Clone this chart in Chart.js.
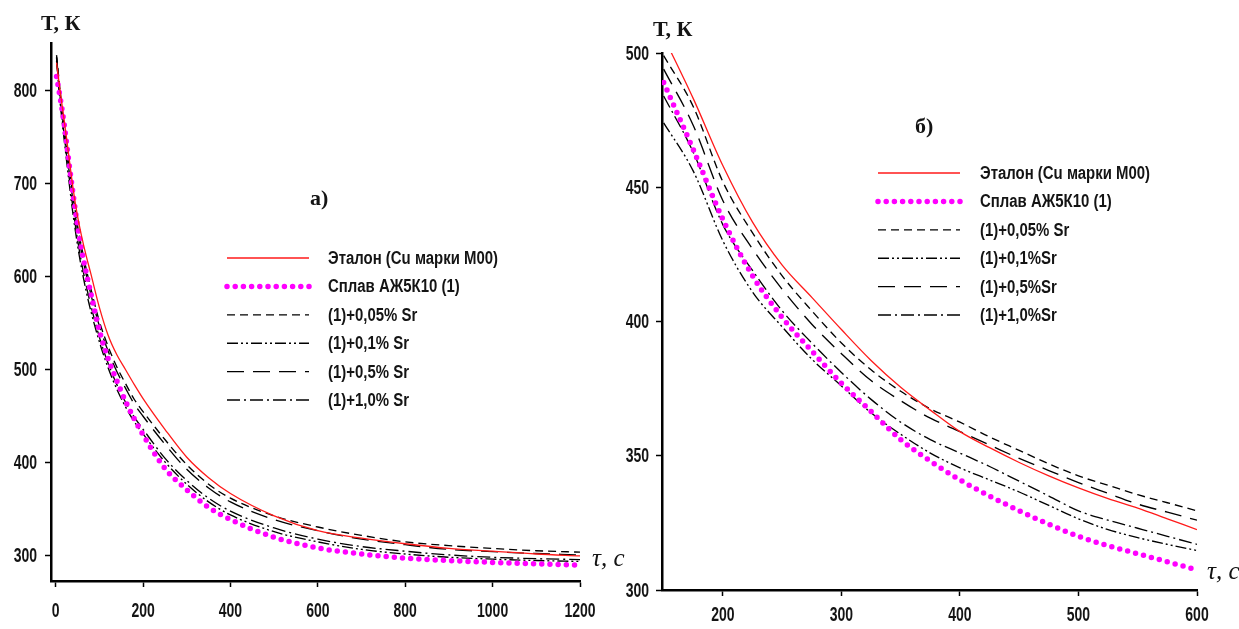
<!DOCTYPE html>
<html>
<head>
<meta charset="utf-8">
<script src="https://cdn.jsdelivr.net/npm/chart.js@4.4.1/dist/chart.umd.min.js"></script>
<style>
  html, body { margin: 0; padding: 0; background: #fff; }
  #wrap { position: relative; width: 1239px; height: 629px; overflow: hidden; }
  canvas { position: absolute; top: 0; }
  #chartA { left: 0; }
  #chartB { left: 620px; }
</style>
</head>
<body>
<div id="wrap">
  <canvas id="chartA" width="632" height="629"></canvas>
  <canvas id="chartB" width="619" height="629"></canvas>
</div>
<script>
// cooling curves, full run (a) and zoomed section 150..600 s (b)
const labelsA = ['Эталон (Cu марки М00)', 'Сплав АЖ5К10 (1)', '(1)+0,05% Sr', '(1)+0,1% Sr', '(1)+0,5% Sr', '(1)+1,0% Sr'];
const labelsB = ['Эталон (Cu марки М00)', 'Сплав АЖ5К10 (1)', '(1)+0,05% Sr', '(1)+0,1%Sr', '(1)+0,5%Sr', '(1)+1,0%Sr'];

const timeA = [2, 10, 20, 30, 40, 50, 60, 70, 80, 100, 120, 140, 160, 180, 200, 250, 300, 350, 400, 500, 600, 700, 800, 900, 1000, 1100, 1200];
const refA    = [830, 800, 766, 730, 694, 665, 642, 622, 604, 567, 537, 516, 500, 484, 469, 436, 406, 384, 367, 343, 327, 319, 313, 308, 305, 302, 300];
const alloyA  = [815, 793, 762, 724, 688, 655, 627, 604, 583, 542, 512, 488, 466, 447, 430, 394, 371, 352, 339, 320, 308.5, 302, 297.5, 295, 293, 291.5, 290];
const sr005A  = [838, 800, 760, 722, 686, 655, 630, 608, 588, 552, 525, 503, 485, 468, 455, 425, 398, 377, 362, 343, 331, 322, 315, 311, 308, 305.5, 304];
const sr01A   = [832, 788, 745, 704, 666, 634, 607, 584, 564, 530, 502, 479, 460, 444, 431, 401, 377, 358, 344, 326, 315, 307, 302, 298.5, 296.5, 295, 294];
const sr05A   = [836, 795, 755, 716, 680, 650, 624, 602, 582, 547, 520, 498, 480, 463, 450, 420, 393, 373, 358, 339, 327, 318, 312, 307, 304.5, 302.5, 301];
const sr10A   = [835, 792, 750, 710, 672, 640, 613, 590, 570, 535, 507, 484, 465, 449, 436, 405, 381, 362, 348, 330, 318, 310, 305, 301, 298.5, 297, 296];

const timeB = [150, 175, 200, 225, 250, 275, 300, 325, 350, 375, 400, 425, 450, 475, 500, 525, 550, 575, 600];
const refB    = [506, 483, 458, 437, 421, 409, 397, 385.5, 375.5, 367, 359, 353, 347.5, 342.5, 338, 334, 330.5, 326.5, 322.5];
const alloyB  = [489, 464, 438, 417, 401.5, 389, 377, 366.5, 356, 348, 341, 335, 329.5, 324.5, 320, 316.5, 313.5, 310.5, 307.5];
const sr005B  = [499, 480, 452, 433, 417, 404, 392, 382, 374, 367.5, 362.5, 357, 352, 347, 342.5, 339, 335.5, 332.5, 329.5];
const sr01B   = [474, 456, 430, 411, 398, 386, 376, 366, 358, 351, 345.5, 341, 336.5, 331.5, 326.5, 322.5, 319.5, 317, 314.7];
const sr05B   = [494, 473, 445, 427, 412, 399, 388, 378, 370.5, 364, 359, 354, 349, 344.5, 340, 336, 332, 329, 326];
const sr10B   = [484, 463, 436, 419, 404, 392, 381, 371, 362.5, 356, 351, 346, 340.5, 335, 329.5, 326, 323, 320, 317];

const xTicksA = [0, 200, 400, 600, 800, 1000, 1200];
const yTicksA = [300, 400, 500, 600, 700, 800];
const xTicksB = [200, 300, 400, 500, 600];
const yTicksB = [300, 350, 400, 450, 500];

// line looks, in legend order
const looks = [
  { color: '#ff1a1a', width: 1.3, dash: [] },
  { color: '#ff00ff', width: 5.5, dash: [0, 8.2], cap: 'round' },
  { color: '#000', width: 1.35, dash: [8, 5] },
  { color: '#000', width: 1.35, dash: [11, 3, 2, 3, 2, 3] },
  { color: '#000', width: 1.35, dash: [17, 9] },
  { color: '#000', width: 1.35, dash: [13, 4, 2, 4] },
];

const sansFamily = '"Liberation Sans", Arial, sans-serif';
const tickFont = 'bold 20px ' + sansFamily;
const legendFont = 'bold 18px ' + sansFamily;
const serifBold = 'bold 22px "Liberation Serif", "Times New Roman", serif';
const serifItalic = 'italic 25px "Liberation Serif", "Times New Roman", serif';

function makeDatasets(labels, times, series) {
  return series.map((ys, i) => ({
    label: labels[i],
    data: times.map((t, k) => ({ x: t, y: ys[k] })),
    borderColor: looks[i].color,
    borderWidth: looks[i].width,
    borderDash: looks[i].dash,
    borderCapStyle: looks[i].cap || 'butt',
    pointRadius: 0,
    fill: false,
    cubicInterpolationMode: 'monotone',
  }));
}

// labels are painted by the plugin below in a condensed face, so the
// scale only keeps its border and outward tick marks
function axis(min, max, ticks, fitSize, horizontal) {
  return {
    type: 'linear',
    min: min,
    max: max,
    afterBuildTicks: (s) => { s.ticks = ticks.map((v) => ({ value: v })); },
    afterFit: (s) => { if (horizontal) s.height = fitSize; else s.width = fitSize; },
    ticks: { display: false },
    grid: { drawOnChartArea: false, drawTicks: true, tickLength: 6, tickColor: '#000', tickWidth: 1.5 },
    border: { color: '#000', width: 2.5 },
  };
}

function narrowText(ctx, text, x, y, sx, align) {
  ctx.save();
  ctx.translate(x, y);
  ctx.scale(sx, 1);
  ctx.textAlign = align;
  ctx.textBaseline = 'middle';
  ctx.fillText(text, 0, 0);
  ctx.restore();
}

// tick numbers, legend and captions drawn over the plot
const insideLegend = {
  id: 'insideLegend',
  afterDraw(chart, args, opts) {
    const ctx = chart.ctx;
    const area = chart.chartArea;
    ctx.save();
    ctx.fillStyle = '#141414';

    ctx.font = tickFont;
    chart.scales.x.ticks.forEach((t) => {
      narrowText(ctx, String(t.value), chart.scales.x.getPixelForValue(t.value), area.bottom + opts.xLabelDrop, 0.7, 'center');
    });
    chart.scales.y.ticks.forEach((t) => {
      narrowText(ctx, String(t.value), area.left - opts.yLabelGap, chart.scales.y.getPixelForValue(t.value) + 1, 0.7, 'right');
    });

    chart.data.datasets.forEach((ds, i) => {
      const y = opts.top + i * opts.rowGap;
      ctx.beginPath();
      ctx.strokeStyle = ds.borderColor;
      ctx.lineWidth = ds.borderWidth;
      ctx.lineCap = ds.borderCapStyle;
      ctx.setLineDash(ds.borderDash);
      ctx.moveTo(opts.left, y);
      ctx.lineTo(opts.left + opts.lineLength, y);
      ctx.stroke();
      ctx.setLineDash([]);
      ctx.font = legendFont;
      narrowText(ctx, ds.label, opts.textLeft, y + 1, 0.83, 'left');
    });

    opts.captions.forEach((c) => {
      ctx.font = c.font;
      ctx.textAlign = 'left';
      ctx.textBaseline = 'middle';
      ctx.fillText(c.text, c.x, c.y);
    });
    ctx.restore();
  },
};

function makeChart(id, datasets, scales, padding, legendOpts) {
  return new Chart(document.getElementById(id), {
    type: 'line',
    data: { datasets: datasets },
    options: {
      responsive: false,
      animation: false,
      devicePixelRatio: 1,
      layout: { padding: padding },
      scales: scales,
      plugins: { legend: { display: false }, tooltip: { enabled: false }, insideLegend: legendOpts },
    },
    plugins: [insideLegend],
  });
}

makeChart('chartA',
  makeDatasets(labelsA, timeA, [refA, alloyA, sr005A, sr01A, sr05A, sr10A]),
  { x: axis(-10.7, 1200, xTicksA, 48, true), y: axis(273, 851, yTicksA, 51, false) },
  { left: 0, top: 43, right: 52, bottom: 0 },
  {
    xLabelDrop: 30, yLabelGap: 14,
    left: 227, lineLength: 82, textLeft: 328, top: 258, rowGap: 28.4,
    captions: [
      { text: 'Т, К', x: 41, y: 24, font: serifBold },
      { text: 'а)', x: 310, y: 199, font: serifBold },
      { text: 'τ, c', x: 592, y: 559, font: serifItalic },
    ],
  });

makeChart('chartB',
  makeDatasets(labelsB, timeB, [refB, alloyB, sr005B, sr01B, sr05B, sr10B]),
  { x: axis(148.6, 600, xTicksB, 39, true), y: axis(300, 500, yTicksB, 42, false) },
  { left: 0, top: 53, right: 42, bottom: 0 },
  {
    xLabelDrop: 25, yLabelGap: 13,
    left: 258, lineLength: 82, textLeft: 360, top: 173, rowGap: 28.4,
    captions: [
      { text: 'Т, К', x: 33, y: 30, font: serifBold },
      { text: 'б)', x: 295, y: 127, font: serifBold },
      { text: 'τ, c', x: 587, y: 572, font: serifItalic },
    ],
  });
</script>
</body>
</html>
